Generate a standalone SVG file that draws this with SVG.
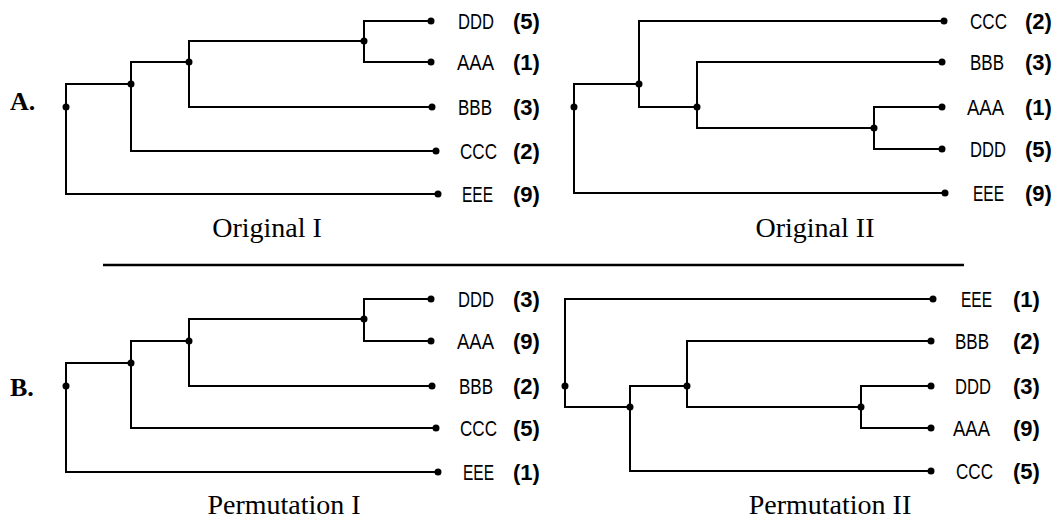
<svg xmlns="http://www.w3.org/2000/svg" width="1063" height="520" viewBox="0 0 1063 520">
<style>
.e{fill:none;stroke:#000;stroke-width:2;stroke-linecap:square;stroke-linejoin:miter}
.d{fill:#000}
.n{font-family:"Liberation Sans",Arial,sans-serif;font-size:22px;fill:#000}
.v{font-family:"Liberation Sans",Arial,sans-serif;font-size:22px;font-weight:bold;fill:#000}
.t{font-family:"Liberation Serif","Times New Roman",serif;font-size:28px;fill:#000;text-anchor:middle}
.p{font-family:"Liberation Serif","Times New Roman",serif;font-size:26px;font-weight:bold;fill:#000}
</style>
<rect width="1063" height="520" fill="#fff"/>
<g id="connectors">
<path class="e" d="M66,107 V84 H131"/>
<path class="e" d="M66,107 V194 H438"/>
<path class="e" d="M131,84 V62 H189"/>
<path class="e" d="M131,84 V151 H436"/>
<path class="e" d="M189,62 V41 H364"/>
<path class="e" d="M189,62 V107 H432"/>
<path class="e" d="M364,41 V21 H431"/>
<path class="e" d="M364,41 V62 H431"/>
<path class="e" d="M574,107 V84 H639"/>
<path class="e" d="M574,107 V193 H945"/>
<path class="e" d="M639,84 V21 H944"/>
<path class="e" d="M639,84 V107 H697"/>
<path class="e" d="M697,107 V62 H942"/>
<path class="e" d="M697,107 V128 H874"/>
<path class="e" d="M874,128 V107 H942"/>
<path class="e" d="M874,128 V149 H942"/>
<path class="e" d="M66,386 V363 H131"/>
<path class="e" d="M66,386 V472 H438"/>
<path class="e" d="M131,363 V341 H189"/>
<path class="e" d="M131,363 V428 H436"/>
<path class="e" d="M189,341 V319 H364"/>
<path class="e" d="M189,341 V386 H432"/>
<path class="e" d="M364,319 V299 H431"/>
<path class="e" d="M364,319 V341 H431"/>
<path class="e" d="M565,386 V299 H933"/>
<path class="e" d="M565,386 V407 H630"/>
<path class="e" d="M630,407 V386 H687"/>
<path class="e" d="M630,407 V471 H931"/>
<path class="e" d="M687,386 V341 H931"/>
<path class="e" d="M687,386 V407 H861"/>
<path class="e" d="M861,407 V386 H931"/>
<path class="e" d="M861,407 V428 H931"/>
</g>
<line x1="103" y1="265" x2="964" y2="265" stroke="#000" stroke-width="2.5"/>
<text class="p" x="10" y="110">A.</text>
<text class="p" x="10" y="396">B.</text>
<text class="t" x="267" y="237">Original I</text>
<text class="t" x="815" y="237">Original II</text>
<text class="t" x="284" y="514">Permutation I</text>
<text class="t" x="830" y="514">Permutation II</text>
<g id="a1-root"><circle class="d" cx="66" cy="107" r="3.5"/></g>
<g id="a1-n2"><circle class="d" cx="131" cy="84" r="3.5"/></g>
<g id="a1-n3"><circle class="d" cx="189" cy="62" r="3.5"/></g>
<g id="a1-n4"><circle class="d" cx="364" cy="41" r="3.5"/></g>
<g id="a1-ddd"><circle class="d" cx="431" cy="21" r="3.5"/><text class="n" x="458" y="29" textLength="36" lengthAdjust="spacingAndGlyphs">DDD</text><text class="v" x="513" y="29">(5)</text></g>
<g id="a1-aaa"><circle class="d" cx="431" cy="62" r="3.5"/><text class="n" x="457" y="70" textLength="37" lengthAdjust="spacingAndGlyphs">AAA</text><text class="v" x="513" y="70">(1)</text></g>
<g id="a1-bbb"><circle class="d" cx="432" cy="107" r="3.5"/><text class="n" x="458" y="115" textLength="34" lengthAdjust="spacingAndGlyphs">BBB</text><text class="v" x="513" y="115">(3)</text></g>
<g id="a1-ccc"><circle class="d" cx="436" cy="151" r="3.5"/><text class="n" x="460" y="159" textLength="37" lengthAdjust="spacingAndGlyphs">CCC</text><text class="v" x="513" y="159">(2)</text></g>
<g id="a1-eee"><circle class="d" cx="438" cy="194" r="3.5"/><text class="n" x="462" y="202" textLength="31" lengthAdjust="spacingAndGlyphs">EEE</text><text class="v" x="513" y="202">(9)</text></g>
<g id="a2-root"><circle class="d" cx="574" cy="107" r="3.5"/></g>
<g id="a2-n2"><circle class="d" cx="639" cy="84" r="3.5"/></g>
<g id="a2-n3"><circle class="d" cx="697" cy="107" r="3.5"/></g>
<g id="a2-n4"><circle class="d" cx="874" cy="128" r="3.5"/></g>
<g id="a2-ccc"><circle class="d" cx="944" cy="21" r="3.5"/><text class="n" x="970" y="29" textLength="37" lengthAdjust="spacingAndGlyphs">CCC</text><text class="v" x="1025" y="29">(2)</text></g>
<g id="a2-bbb"><circle class="d" cx="942" cy="62" r="3.5"/><text class="n" x="970" y="70" textLength="34" lengthAdjust="spacingAndGlyphs">BBB</text><text class="v" x="1025" y="70">(3)</text></g>
<g id="a2-aaa"><circle class="d" cx="942" cy="107" r="3.5"/><text class="n" x="967" y="115" textLength="37" lengthAdjust="spacingAndGlyphs">AAA</text><text class="v" x="1025" y="115">(1)</text></g>
<g id="a2-ddd"><circle class="d" cx="942" cy="149" r="3.5"/><text class="n" x="970" y="157" textLength="36" lengthAdjust="spacingAndGlyphs">DDD</text><text class="v" x="1025" y="157">(5)</text></g>
<g id="a2-eee"><circle class="d" cx="945" cy="193" r="3.5"/><text class="n" x="973" y="201" textLength="31" lengthAdjust="spacingAndGlyphs">EEE</text><text class="v" x="1025" y="201">(9)</text></g>
<g id="b1-root"><circle class="d" cx="66" cy="386" r="3.5"/></g>
<g id="b1-n2"><circle class="d" cx="131" cy="363" r="3.5"/></g>
<g id="b1-n3"><circle class="d" cx="189" cy="341" r="3.5"/></g>
<g id="b1-n4"><circle class="d" cx="364" cy="319" r="3.5"/></g>
<g id="b1-ddd"><circle class="d" cx="431" cy="299" r="3.5"/><text class="n" x="458" y="307" textLength="36" lengthAdjust="spacingAndGlyphs">DDD</text><text class="v" x="513" y="307">(3)</text></g>
<g id="b1-aaa"><circle class="d" cx="431" cy="341" r="3.5"/><text class="n" x="457" y="349" textLength="37" lengthAdjust="spacingAndGlyphs">AAA</text><text class="v" x="513" y="349">(9)</text></g>
<g id="b1-bbb"><circle class="d" cx="432" cy="386" r="3.5"/><text class="n" x="459" y="394" textLength="34" lengthAdjust="spacingAndGlyphs">BBB</text><text class="v" x="513" y="394">(2)</text></g>
<g id="b1-ccc"><circle class="d" cx="436" cy="428" r="3.5"/><text class="n" x="460" y="436" textLength="37" lengthAdjust="spacingAndGlyphs">CCC</text><text class="v" x="513" y="436">(5)</text></g>
<g id="b1-eee"><circle class="d" cx="438" cy="472" r="3.5"/><text class="n" x="463" y="480" textLength="31" lengthAdjust="spacingAndGlyphs">EEE</text><text class="v" x="513" y="480">(1)</text></g>
<g id="b2-root"><circle class="d" cx="565" cy="386" r="3.5"/></g>
<g id="b2-n2"><circle class="d" cx="630" cy="407" r="3.5"/></g>
<g id="b2-n3"><circle class="d" cx="687" cy="386" r="3.5"/></g>
<g id="b2-n4"><circle class="d" cx="861" cy="407" r="3.5"/></g>
<g id="b2-eee"><circle class="d" cx="933" cy="299" r="3.5"/><text class="n" x="961" y="307" textLength="31" lengthAdjust="spacingAndGlyphs">EEE</text><text class="v" x="1013" y="307">(1)</text></g>
<g id="b2-bbb"><circle class="d" cx="931" cy="341" r="3.5"/><text class="n" x="955" y="349" textLength="34" lengthAdjust="spacingAndGlyphs">BBB</text><text class="v" x="1013" y="349">(2)</text></g>
<g id="b2-ddd"><circle class="d" cx="931" cy="386" r="3.5"/><text class="n" x="955" y="394" textLength="36" lengthAdjust="spacingAndGlyphs">DDD</text><text class="v" x="1013" y="394">(3)</text></g>
<g id="b2-aaa"><circle class="d" cx="931" cy="428" r="3.5"/><text class="n" x="953" y="436" textLength="37" lengthAdjust="spacingAndGlyphs">AAA</text><text class="v" x="1013" y="436">(9)</text></g>
<g id="b2-ccc"><circle class="d" cx="931" cy="471" r="3.5"/><text class="n" x="956" y="479" textLength="37" lengthAdjust="spacingAndGlyphs">CCC</text><text class="v" x="1013" y="479">(5)</text></g>
</svg>
